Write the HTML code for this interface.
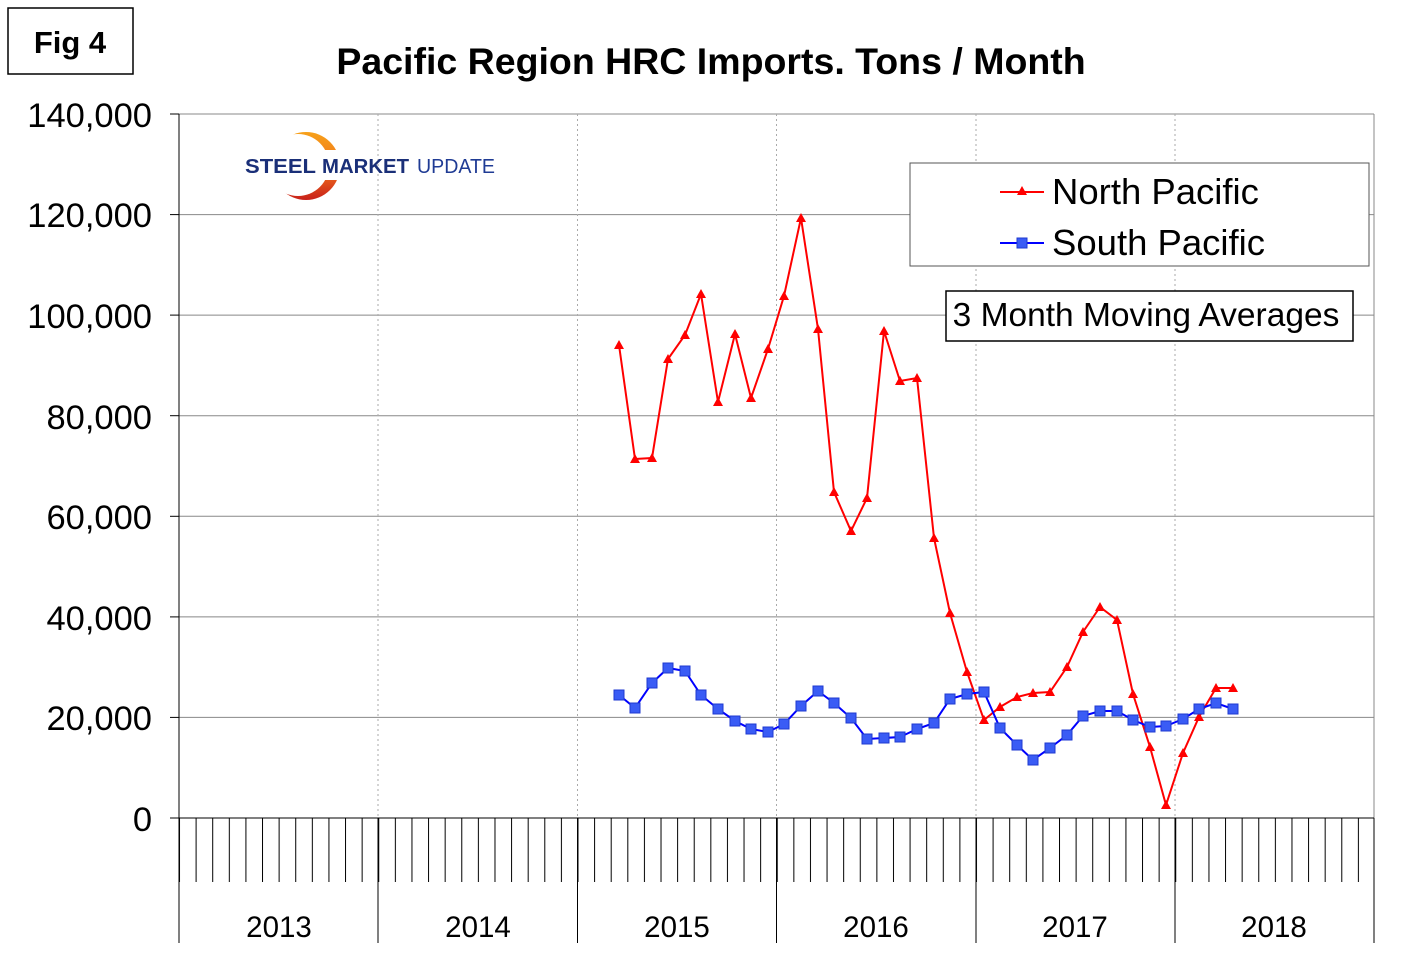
<!DOCTYPE html><html><head><meta charset="utf-8"><style>body{margin:0;background:#fff}svg{display:block;font-family:"Liberation Sans",Arial,sans-serif}</style></head><body>
<svg width="1422" height="973" viewBox="0 0 1422 973">
<defs>
<pattern id="mt" x="179" y="0" width="16.604" height="973" patternUnits="userSpaceOnUse"><line x1="0.5" y1="0" x2="0.5" y2="973" stroke="#000" stroke-width="1"/></pattern>
<marker id="tri" markerWidth="12" markerHeight="12" refX="6" refY="6" markerUnits="userSpaceOnUse"><polygon points="6,1 11,10 1,10" fill="#f00"/></marker>
<marker id="sq" markerWidth="12" markerHeight="12" refX="6" refY="6" markerUnits="userSpaceOnUse"><rect x="1" y="1" width="10" height="10" fill="#3a5cf5" stroke="#1f3ad0" stroke-width="1"/></marker>
<linearGradient id="og" x1="0" y1="0" x2="0" y2="1"><stop offset="0" stop-color="#f7a11a"/><stop offset="0.6" stop-color="#ee6a1c"/><stop offset="1" stop-color="#c8201a"/></linearGradient>
</defs>
<rect x="8" y="8" width="125" height="66" fill="#fff" stroke="#000" stroke-width="1.5"/>
<text x="70" y="53" text-anchor="middle" font-size="31" font-weight="bold">Fig 4</text>
<text x="711" y="74" text-anchor="middle" font-size="37.5" font-weight="bold">Pacific Region HRC Imports. Tons / Month</text>
<g stroke="#888" stroke-width="1">
<line x1="179" y1="114" x2="1374" y2="114"/><line x1="179" y1="214.6" x2="1374" y2="214.6"/><line x1="179" y1="315.1" x2="1374" y2="315.1"/><line x1="179" y1="415.7" x2="1374" y2="415.7"/><line x1="179" y1="516.3" x2="1374" y2="516.3"/><line x1="179" y1="616.9" x2="1374" y2="616.9"/><line x1="179" y1="717.4" x2="1374" y2="717.4"/>
</g>
<g stroke="#aaa" stroke-width="1" stroke-dasharray="2,3">
<line x1="378" y1="114" x2="378" y2="818"/><line x1="577.5" y1="114" x2="577.5" y2="818"/><line x1="776.5" y1="114" x2="776.5" y2="818"/><line x1="976" y1="114" x2="976" y2="818"/><line x1="1175" y1="114" x2="1175" y2="818"/>
</g>
<line x1="1374" y1="114" x2="1374" y2="818" stroke="#888"/>
<rect x="179" y="818" width="1195" height="64" fill="url(#mt)"/>
<g stroke="#000" stroke-width="1">
<line x1="179" y1="114" x2="179" y2="943"/><line x1="378" y1="818" x2="378" y2="943"/><line x1="577.5" y1="818" x2="577.5" y2="943"/><line x1="776.5" y1="818" x2="776.5" y2="943"/><line x1="976" y1="818" x2="976" y2="943"/><line x1="1175" y1="818" x2="1175" y2="943"/><line x1="1374" y1="818" x2="1374" y2="943"/>
<line x1="170" y1="818" x2="1374" y2="818"/>
<line x1="170" y1="114" x2="179" y2="114"/><line x1="170" y1="214.6" x2="179" y2="214.6"/><line x1="170" y1="315.1" x2="179" y2="315.1"/><line x1="170" y1="415.7" x2="179" y2="415.7"/><line x1="170" y1="516.3" x2="179" y2="516.3"/><line x1="170" y1="616.9" x2="179" y2="616.9"/><line x1="170" y1="717.4" x2="179" y2="717.4"/>
</g>
<g font-size="34.5" text-anchor="end">
<text x="152" y="127">140,000</text><text x="152" y="227">120,000</text><text x="152" y="328">100,000</text><text x="152" y="429">80,000</text><text x="152" y="529">60,000</text><text x="152" y="630">40,000</text><text x="152" y="730">20,000</text><text x="152" y="831">0</text>
</g>
<g font-size="29.5" text-anchor="middle">
<text x="279" y="937">2013</text><text x="478" y="937">2014</text><text x="677" y="937">2015</text><text x="876" y="937">2016</text><text x="1075" y="937">2017</text><text x="1274" y="937">2018</text>
</g>
<circle cx="306" cy="166" r="34" fill="url(#og)"/>
<circle cx="298" cy="165" r="31" fill="#fff"/>
<rect x="270" y="150" width="80" height="30" fill="#fff"/>
<text x="245" y="173" font-size="20" font-weight="bold" fill="#1a2f78" textLength="71" lengthAdjust="spacingAndGlyphs">STEEL</text>
<text x="322" y="173" font-size="20" font-weight="bold" fill="#1a2f78" textLength="87" lengthAdjust="spacingAndGlyphs">MARKET</text>
<text x="417" y="173" font-size="20" fill="#1f3b94" textLength="78" lengthAdjust="spacingAndGlyphs">UPDATE</text>
<polyline fill="none" stroke="#f00" stroke-width="2" marker-start="url(#tri)" marker-mid="url(#tri)" marker-end="url(#tri)" points="619,345 635,459 652,458 668,359 685,335 701,294 718,402 735,334 751,398 768,349 784,296 801,218 818,329 834,492 851,531 867,498 884,331 900,381 917,378 934,538 950,613 967,672 984,720 1000,707 1017,697 1033,693 1050,692 1067,667 1083,632 1100,607 1117,620 1133,694 1150,747 1166,805 1183,753 1199,717 1216,688 1233,688"/>
<polyline fill="none" stroke="#00f" stroke-width="2" marker-start="url(#sq)" marker-mid="url(#sq)" marker-end="url(#sq)" points="619,695 635,708 652,683 668,668 685,671 701,695 718,709 735,721 751,729 768,732 784,724 801,706 818,691 834,703 851,718 867,739 884,738 900,737 917,729 934,723 950,699 967,694 984,692 1000,728 1017,745 1033,760 1050,748 1067,735 1083,716 1100,711 1117,711 1133,720 1150,727 1166,726 1183,719 1199,709 1216,703 1233,709"/>
<rect x="910" y="163" width="459" height="103" fill="#fff" stroke="#555" stroke-width="1"/>
<line x1="1000" y1="192" x2="1044" y2="192" stroke="#f00" stroke-width="2"/>
<polygon points="1022,186 1027,195 1017,195" fill="#f00"/>
<text x="1052" y="204" font-size="36.5">North Pacific</text>
<line x1="1000" y1="243" x2="1044" y2="243" stroke="#00f" stroke-width="2"/>
<rect x="1017" y="238" width="10" height="10" fill="#3a5cf5" stroke="#1f3ad0"/>
<text x="1052" y="255" font-size="36.5">South Pacific</text>
<rect x="946" y="291" width="407" height="50" fill="#fff" stroke="#000" stroke-width="1.5"/>
<text x="1146" y="326" text-anchor="middle" font-size="33.5">3 Month Moving Averages</text>
</svg>
</body></html>
